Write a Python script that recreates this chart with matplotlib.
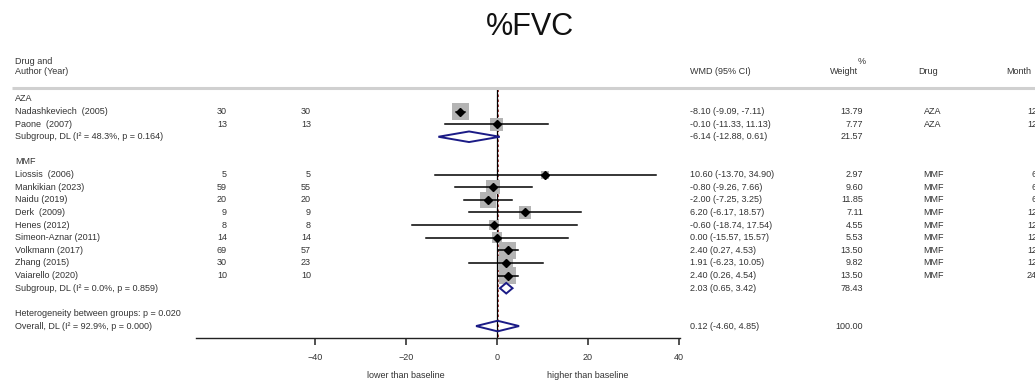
import matplotlib
matplotlib.use("Agg")
import matplotlib.pyplot as plt
from matplotlib.patches import Polygon
from matplotlib.transforms import blended_transform_factory

plt.rcParams['font.family'] = ['Liberation Sans', 'DejaVu Sans']

# ---- data ----
groups = ["AZA", "MMF"]

study_group = ["AZA", "AZA",
               "MMF", "MMF", "MMF", "MMF", "MMF", "MMF", "MMF", "MMF", "MMF"]
study_labels = ["Nadashkeviech  (2005)", "Paone  (2007)",
                "Liossis  (2006)", "Mankikian (2023)", "Naidu (2019)", "Derk  (2009)",
                "Henes (2012)", "Simeon-Aznar (2011)", "Volkmann (2017)", "Zhang (2015)",
                "Vaiarello (2020)"]
n_treat = [30, 13, 5, 59, 20, 9, 8, 14, 69, 30, 10]
n_ctrl = [30, 13, 5, 55, 20, 9, 8, 14, 57, 23, 10]
wmd = [-8.10, -0.10, 10.60, -0.80, -2.00, 6.20, -0.60, 0.00, 2.40, 1.91, 2.40]
ci_lo = [-9.09, -11.33, -13.70, -9.26, -7.25, -6.17, -18.74, -15.57, 0.27, -6.23, 0.26]
ci_hi = [-7.11, 11.13, 34.90, 7.66, 3.25, 18.57, 17.54, 15.57, 4.53, 10.05, 4.54]
weight = [13.79, 7.77, 2.97, 9.60, 11.85, 7.11, 4.55, 5.53, 13.50, 9.82, 13.50]
month = [12, 12, 6, 6, 6, 12, 12, 12, 12, 12, 24]

sub_labels = ["Subgroup, DL (I\u00b2 = 48.3%, p = 0.164)",
              "Subgroup, DL (I\u00b2 = 0.0%, p = 0.859)"]
sub_wmd = [-6.14, 2.03]
sub_lo = [-12.88, 0.65]
sub_hi = [0.61, 3.42]
sub_weight = [21.57, 78.43]

het_text = "Heterogeneity between groups: p = 0.020"
overall_label = "Overall, DL (I\u00b2 = 92.9%, p = 0.000)"
overall_wmd, overall_lo, overall_hi, overall_weight = 0.12, -4.60, 4.85, 100.00

xticks = [-40, -20, 0, 20, 40]

# ---- layout (pixels of a 1035x382 canvas) ----
W, H = 1035, 382
x0_px, ppu = 497, 4.55          # zero position and pixels per unit
row0_px, row_px = 98.9, 12.62   # first row position and row spacing
axis_px = 338


def row_of(py):
    return (py - row0_px) / row_px


fig = plt.figure(figsize=(W / 100, H / 100), dpi=100)
left_px, right_px = 196, 680
ax = fig.add_axes([left_px / W, (H - axis_px) / H, (right_px - left_px) / W, axis_px / H])
ax.set_xlim((left_px - x0_px) / ppu, (right_px - x0_px) / ppu)
ax.set_ylim(row_of(axis_px), row_of(0))
for s in ["top", "left", "right"]:
    ax.spines[s].set_visible(False)
ax.spines["bottom"].set_color("#222222")
ax.spines["bottom"].set_linewidth(1.0)
ax.set_yticks([])
ax.set_xticks(xticks)
ax.tick_params(axis="x", direction="out", length=5, width=1.1, color="#222222",
               labelsize=6.5, labelcolor="#333333", pad=5.5)
ax.patch.set_alpha(0)

tr = blended_transform_factory(fig.transFigure, ax.transData)
txt = dict(fontsize=6.5, color="#333333", va="center", clip_on=False, transform=tr)


def put(px, row, s, ha="left"):
    ax.text(px / W, row, s, ha=ha, **txt)


# header
put(15, row_of(62), "Drug and")
put(15, row_of(71), "Author (Year)")
put(690, row_of(71), "WMD (95% CI)")
put(862, row_of(61), "%", ha="center")
put(858, row_of(71), "Weight", ha="right")
put(928, row_of(71), "Drug", ha="center")
put(1031, row_of(71), "Month", ha="right")
sep_y = row_of(88)
ax.plot([12 / W, 1.0], [sep_y, sep_y], transform=tr, color="#d0d0d0", lw=2.2,
        clip_on=False, solid_capstyle="butt")

fig.text(530 / W, 1 - 27 / H, "%FVC", ha="center", va="center", fontsize=22, color="#111111")

# reference lines
ax.plot([0, 0], [row_of(89), row_of(axis_px)], color="black", lw=0.9, zorder=1)
ax.plot([overall_wmd, overall_wmd], [row_of(89), row_of(axis_px)], color="#8b1a1a",
        lw=0.6, ls=(0, (3, 3)), zorder=1)

navy = "#1b1b86"


def diamond(row, c, lo, hi):
    h = 0.42
    ax.add_patch(Polygon([(lo, row), (c, row - h), (hi, row), (c, row + h)], closed=True,
                         fill=False, edgecolor=navy, lw=1.4, zorder=4))


row = 0
for g, gname in enumerate(groups):
    put(15, row, gname)
    row += 1
    for i in range(len(study_labels)):
        if study_group[i] != gname:
            continue
        put(15, row, study_labels[i])
        put(227, row, str(n_treat[i]), ha="right")
        put(311, row, str(n_ctrl[i]), ha="right")
        put(690, row, "%.2f (%.2f, %.2f)" % (wmd[i], ci_lo[i], ci_hi[i]))
        put(863, row, "%.2f" % weight[i], ha="right")
        put(933, row, study_group[i], ha="center")
        put(1037, row, str(month[i]), ha="right")
        ax.scatter([wmd[i]], [row], marker="s", s=11 * weight[i], color="#b4b4b4",
                   edgecolors="none", zorder=2, clip_on=False)
        ax.plot([ci_lo[i], ci_hi[i]], [row, row], color="black", lw=1.1, zorder=3)
        ax.plot([wmd[i]], [row], marker="D", ms=3.8, color="black", zorder=5)
        row += 1
    put(15, row, sub_labels[g])
    put(690, row, "%.2f (%.2f, %.2f)" % (sub_wmd[g], sub_lo[g], sub_hi[g]))
    put(863, row, "%.2f" % sub_weight[g], ha="right")
    diamond(row, sub_wmd[g], sub_lo[g], sub_hi[g])
    row += 2

put(15, row, het_text)
row += 1
put(15, row, overall_label)
put(690, row, "%.2f (%.2f, %.2f)" % (overall_wmd, overall_lo, overall_hi))
put(863, row, "%.2f" % overall_weight, ha="right")
diamond(row, overall_wmd, overall_lo, overall_hi)

ax.text(-20, row_of(376), "lower than baseline", ha="center", va="center",
        fontsize=6.5, color="#333333", clip_on=False)
ax.text(20, row_of(376), "higher than baseline", ha="center", va="center",
        fontsize=6.5, color="#333333", clip_on=False)

fig.savefig("out.png", dpi=100)
